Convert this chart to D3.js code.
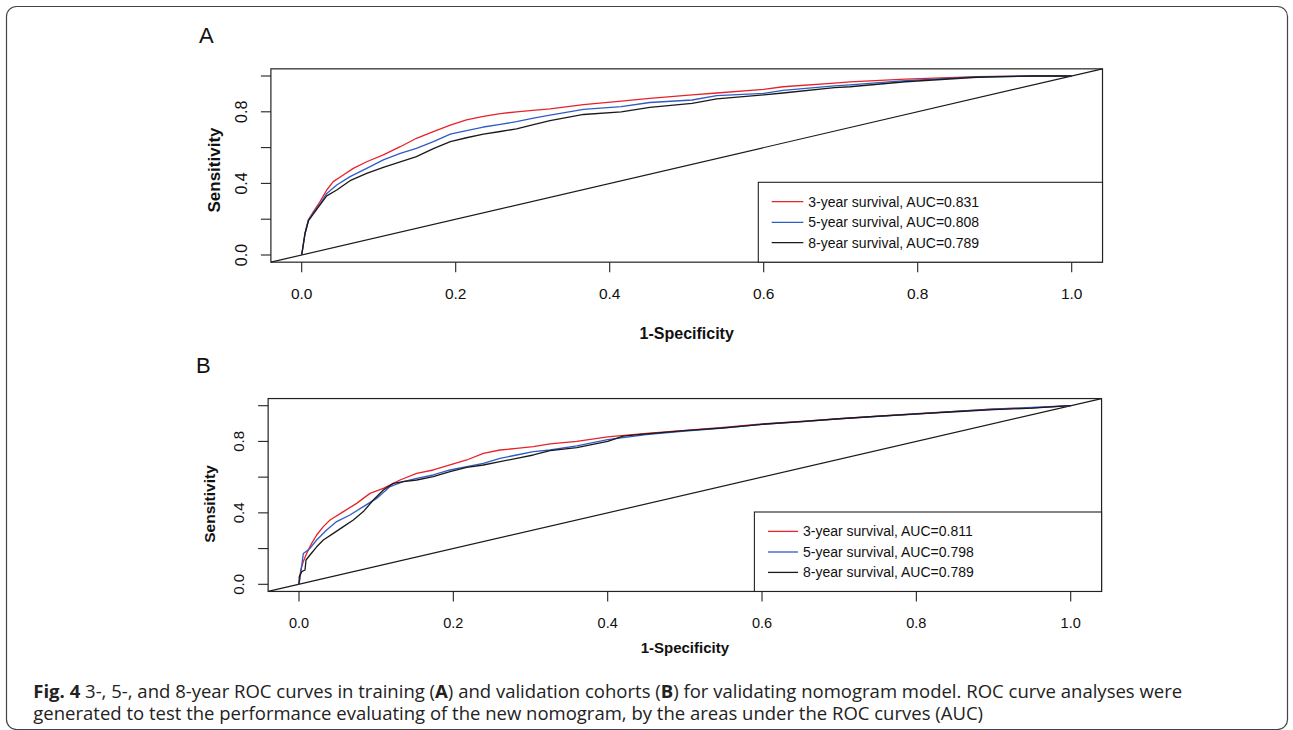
<!DOCTYPE html>
<html lang="en">
  <head>
    <meta charset="UTF-8">
    <title>ROC curves</title>
    <style>
      body { margin: 0; background: #fff; }
      text { font-family: "Liberation Sans", Arial, sans-serif; fill: #111; }
    </style>
  </head>
  <body>
    <div id="chart"></div>
    <script src="https://d3js.org/d3.v7.min.js"></script>
    <script>
      // tick values and labels (R drops overlapping y labels)
      let xTicks = [0, 0.2, 0.4, 0.6, 0.8, 1.0];
      let xTickLabels = ["0.0", "0.2", "0.4", "0.6", "0.8", "1.0"];
      let yTicks = [0, 0.2, 0.4, 0.6, 0.8, 1.0];
      let yTickLabels = ["0.0", "", "0.4", "", "0.8", ""];

      let seriesNames = ["3-year survival", "5-year survival", "8-year survival"];
      let aucA = [0.831, 0.808, 0.789];
      let aucB = [0.811, 0.798, 0.789];

      // [1-specificity, sensitivity], training cohort (A)
      let roc3A = [[0,0],[.0043,.12],[.0087,.196],[.0152,.242],[.0238,.298],[.0325,.363],[.041,.41],[.054,.447],[.067,.484],[.0844,.521],[.106,.559],[.128,.605],[.149,.652],[.171,.689],[.193,.725],[.214,.755],[.236,.775],[.258,.79],[.279,.8],[.3,.808],[.3225,.816],[.366,.84],[.415,.86],[.452,.875],[.507,.894],[.539,.905],[.6,.925],[.625,.94],[.692,.96],[.712,.967],[.784,.983],[.877,.996],[.95,1],[1,1]];
      let roc5A = [[0,0],[.0043,.12],[.0087,.196],[.0152,.235],[.0238,.285],[.0325,.344],[.0455,.391],[.0628,.438],[.0844,.484],[.106,.531],[.128,.568],[.149,.596],[.171,.633],[.193,.675],[.214,.695],[.236,.715],[.258,.73],[.279,.745],[.301,.765],[.3225,.782],[.366,.814],[.415,.829],[.452,.852],[.507,.866],[.539,.89],[.6,.903],[.625,.92],[.692,.945],[.712,.95],[.784,.974],[.877,.995],[.95,1],[1,1]];
      let roc8A = [[0,0],[.0043,.12],[.0087,.19],[.0152,.23],[.0238,.28],[.0325,.33],[.0455,.363],[.0628,.415],[.0844,.456],[.106,.49],[.128,.52],[.149,.55],[.171,.594],[.193,.633],[.214,.655],[.236,.675],[.258,.69],[.279,.705],[.301,.728],[.3225,.751],[.366,.785],[.415,.8],[.452,.825],[.507,.847],[.539,.872],[.6,.894],[.625,.905],[.692,.935],[.712,.94],[.784,.968],[.877,.993],[.95,1],[1,1]];

      // validation cohort (B)
      let roc3B = [[0,0],[.0022,.08],[.0056,.127],[.0099,.173],[.0164,.229],[.0229,.276],[.0315,.323],[.0402,.36],[.0575,.407],[.0747,.453],[.092,.509],[.1093,.537],[.1309,.584],[.1525,.621],[.174,.64],[.1957,.668],[.2173,.696],[.2389,.733],[.2605,.752],[.2821,.761],[.3037,.771],[.3253,.786],[.36,.8],[.4,.825],[.45,.845],[.5,.862],[.55,.878],[.6,.898],[.65,.912],[.7,.928],[.75,.942],[.8,.955],[.85,.968],[.9,.982],[.95,.988],[1,1]];
      let roc5B = [[0,0],[.0022,.061],[.0056,.173],[.0142,.201],[.0229,.248],[.0358,.304],[.0488,.351],[.066,.388],[.0834,.435],[.1006,.481],[.118,.547],[.135,.575],[.1525,.593],[.174,.612],[.1957,.64],[.2173,.659],[.2389,.677],[.2605,.705],[.2821,.724],[.3037,.743],[.3253,.752],[.36,.775],[.4,.81],[.45,.838],[.5,.858],[.55,.875],[.6,.895],[.65,.91],[.7,.926],[.75,.94],[.8,.953],[.85,.968],[.9,.98],[.95,.99],[1,1]];
      let roc8B = [[0,0],[.0004,.043],[.0035,.071],[.0078,.08],[.0091,.136],[.0142,.164],[.0229,.21],[.0315,.248],[.0445,.285],[.0575,.323],[.0704,.36],[.0834,.407],[.0963,.472],[.1093,.528],[.1222,.565],[.135,.575],[.1525,.584],[.174,.603],[.1957,.631],[.2173,.655],[.2389,.668],[.2605,.687],[.2821,.705],[.3037,.724],[.3253,.748],[.36,.765],[.4,.8],[.42,.83],[.45,.842],[.5,.86],[.55,.876],[.6,.896],[.65,.911],[.7,.927],[.75,.941],[.8,.954],[.85,.966],[.9,.978],[.95,.986],[1,1]];

      let colors = ["#e8222a", "#2f5cc4", "#1a1a1a"];

      let width = 1293;
      let height = 730;
      let svg = d3.select("#chart").append("svg").attr("width", width).attr("height", height);

      // rounded frame of the figure
      svg.append("rect")
        .attr("x", 6.5).attr("y", 6.5)
        .attr("width", 1281).attr("height", 723)
        .attr("rx", 10)
        .attr("fill", "none").attr("stroke", "#444").attr("stroke-width", 1.2);

      let panels = [
        { tag: "A", curves: [roc3A, roc5A, roc8A], auc: aucA,
          x: [301.7, 1071.7], y: [255, 76], tagPos: [199, 43.3],
          tickFs: 15.5, yTickFs: 16, labFs: 16, yLabFs: 17,
          xTickY: 293.3, xLabY: 333.3, yTickX: 241, yLabPos: [214, 170],
          legend: { x0: 758.3, y0: 182.3, rows: [201.7, 222.3, 242.7], seg: [771.7, 803.3], tx: 808.3 } },
        { tag: "B", curves: [roc3B, roc5B, roc8B], auc: aucB,
          x: [299, 1070.7], y: [584.3, 405.7], tagPos: [196, 373],
          tickFs: 14.5, yTickFs: 15, labFs: 15, yLabFs: 15.5,
          xTickY: 623.3, xLabY: 648, yTickX: 239, yLabPos: [210, 504],
          legend: { x0: 754.4, y0: 512, rows: [531.4, 552, 572.4], seg: [768, 798], tx: 803 } }
      ];

      panels.forEach(drawPanel);

      function drawPanel(p) {
        let x = d3.scaleLinear().domain([0, 1]).range(p.x);
        let y = d3.scaleLinear().domain([0, 1]).range(p.y);
        let g = svg.append("g");
        let xl = x(-0.04), xr = x(1.04), yb = y(-0.04), yt = y(1.04);

        // diagonal reference line, corner to corner like abline(0, 1)
        g.append("line")
          .attr("x1", xl).attr("y1", yb).attr("x2", xr).attr("y2", yt)
          .attr("stroke", "#1a1a1a").attr("stroke-width", 1.2);

        let line = d3.line().x(d => x(d[0])).y(d => y(d[1]));
        g.selectAll(".roc")
          .data(p.curves)
          .enter()
          .append("path")
          .attr("class", "roc")
          .attr("d", line)
          .attr("fill", "none")
          .attr("stroke", (d, i) => colors[i])
          .attr("stroke-width", 1.3)
          .attr("stroke-linejoin", "round");

        // plot box
        g.append("rect")
          .attr("x", xl).attr("y", yt)
          .attr("width", xr - xl).attr("height", yb - yt)
          .attr("fill", "none").attr("stroke", "#222").attr("stroke-width", 1.2);

        // x ticks
        g.selectAll(".xt")
          .data(xTicks)
          .enter()
          .append("line")
          .attr("x1", d => x(d)).attr("x2", d => x(d))
          .attr("y1", yb).attr("y2", yb + 10)
          .attr("stroke", "#222").attr("stroke-width", 1.1);
        g.selectAll(".xtl")
          .data(xTicks)
          .enter()
          .append("text")
          .attr("x", d => x(d)).attr("y", p.xTickY).attr("dy", "0.35em")
          .attr("text-anchor", "middle")
          .style("font-size", p.tickFs + "px")
          .text((d, i) => xTickLabels[i]);

        // y ticks
        g.selectAll(".yt")
          .data(yTicks)
          .enter()
          .append("line")
          .attr("x1", xl - 10).attr("x2", xl)
          .attr("y1", d => y(d)).attr("y2", d => y(d))
          .attr("stroke", "#222").attr("stroke-width", 1.1);
        g.selectAll(".ytl")
          .data(yTicks)
          .enter()
          .append("text")
          .attr("transform", d => "translate(" + p.yTickX + "," + y(d) + ") rotate(-90)")
          .attr("dy", "0.35em")
          .attr("text-anchor", "middle")
          .style("font-size", p.yTickFs + "px")
          .text((d, i) => yTickLabels[i]);

        // axis titles
        g.append("text")
          .attr("x", (xl + xr) / 2).attr("y", p.xLabY).attr("dy", "0.35em")
          .attr("text-anchor", "middle")
          .style("font-size", p.labFs + "px").style("font-weight", "bold")
          .text("1-Specificity");
        g.append("text")
          .attr("transform", "translate(" + p.yLabPos[0] + "," + p.yLabPos[1] + ") rotate(-90)")
          .attr("dy", "0.35em")
          .attr("text-anchor", "middle")
          .style("font-size", p.yLabFs + "px").style("font-weight", "bold")
          .text("Sensitivity");

        // panel tag
        g.append("text")
          .attr("x", p.tagPos[0]).attr("y", p.tagPos[1])
          .style("font-size", "22px")
          .text(p.tag);

        // legend
        let L = p.legend;
        g.append("rect")
          .attr("x", L.x0).attr("y", L.y0)
          .attr("width", xr - L.x0).attr("height", yb - L.y0)
          .attr("fill", "#fff").attr("stroke", "#222").attr("stroke-width", 1.1);
        let items = g.selectAll(".leg")
          .data(seriesNames)
          .enter()
          .append("g");
        items.append("line")
          .attr("x1", L.seg[0]).attr("x2", L.seg[1])
          .attr("y1", (d, i) => L.rows[i]).attr("y2", (d, i) => L.rows[i])
          .attr("stroke", (d, i) => colors[i]).attr("stroke-width", 1.3);
        items.append("text")
          .attr("x", L.tx).attr("y", (d, i) => L.rows[i]).attr("dy", "0.35em")
          .style("font-size", "14px")
          .text((d, i) => d + ", AUC=" + p.auc[i].toFixed(3));
      }

      // caption
      let capLines = [
        [["Fig. 4", true], [" 3-, 5-, and 8-year ROC curves in training (", false], ["A", true],
         [") and validation cohorts (", false], ["B", true],
         [") for validating nomogram model. ROC curve analyses were", false]],
        [["generated to test the performance evaluating of the new nomogram, by the areas under the ROC curves (AUC)", false]]
      ];
      let capTarget = [1150, 950];
      let capY = [698, 720];
      capLines.forEach(function(parts, li) {
        let t = svg.append("text")
          .attr("x", 33.3).attr("y", capY[li])
          .style("font-family", "'Open Sans', 'Noto Sans', sans-serif")
          .style("font-size", "16px")
          .style("fill", "#222");
        parts.forEach(function(pt) {
          t.append("tspan")
            .style("font-weight", pt[1] ? "bold" : "normal")
            .text(pt[0]);
        });
        let w = t.node().getComputedTextLength();
        t.style("font-size", (16 * capTarget[li] / w).toFixed(2) + "px");
      });
    </script>
  </body>
</html>
